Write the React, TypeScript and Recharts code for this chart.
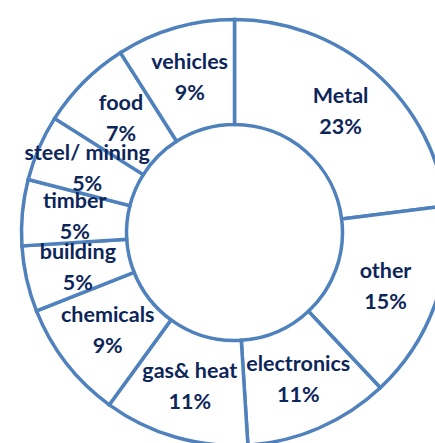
import { Pie, PieChart } from "recharts";

const sectors = [
  "Metal",
  "other",
  "electronics",
  "gas& heat",
  "chemicals",
  "building",
  "timber",
  "steel/ mining",
  "food",
  "vehicles",
];
const shares = [23, 15, 11, 11, 9, 5, 5, 5, 7, 9];

const data = sectors.map((name, i) => ({ name, value: shares[i] }));

const RADIAN = Math.PI / 180;

// two-line label (name, then percent) centred in the middle of the ring
function renderLabel(props: any) {
  const { cx, cy, midAngle, innerRadius, outerRadius, name, value } = props;
  const r = (innerRadius + outerRadius) / 2;
  const x = cx + r * Math.cos(-midAngle * RADIAN);
  const y = cy + r * Math.sin(-midAngle * RADIAN);
  return (
    <text
      x={x}
      y={y}
      textAnchor="middle"
      fill="#0d2659"
      fontFamily="Lato, 'Open Sans', sans-serif"
      fontWeight={700}
      fontSize={21.5}
    >
      <tspan x={x} dy={-9}>
        {name}
      </tspan>
      <tspan x={x} dy={31}>
        {`${value}%`}
      </tspan>
    </text>
  );
}

export default function App() {
  return (
    <>
      <style>{"body{margin:0}"}</style>
      <PieChart width={435} height={443}>
        <Pie
          data={data}
          dataKey="value"
          nameKey="name"
          cx={229.5}
          cy={227.5}
          innerRadius={108}
          outerRadius={213}
          startAngle={90}
          endAngle={-270}
          fill="#ffffff"
          stroke="#4f81bd"
          strokeWidth={3.5}
          label={renderLabel}
          labelLine={false}
          isAnimationActive={false}
        />
      </PieChart>
    </>
  );
}
